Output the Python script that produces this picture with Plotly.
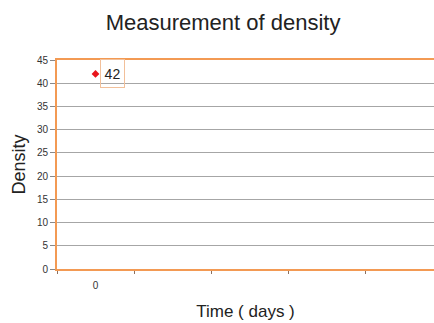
import plotly.graph_objects as go

days = [0]
density = [42]
point_labels = ["42"]
x_tick_vals = [0]
x_tick_text = ["0"]
y_tick_vals = [0, 5, 10, 15, 20, 25, 30, 35, 40, 45]

orange = "#F39A53"
font = "Liberation Sans, Arial, sans-serif"

fig = go.Figure()
fig.add_trace(go.Scatter(
    x=days, y=density, mode="markers",
    marker=dict(symbol="diamond", size=6, color="#E8141C"),
    showlegend=False, hoverinfo="skip",
))
for xv, yv, t in zip(days, density, point_labels):
    fig.add_annotation(
        x=xv, y=yv, text=t, showarrow=False, xanchor="left", yanchor="middle",
        xshift=4, width=21, height=25, borderpad=1,
        bordercolor="#F2C09A", borderwidth=1,
        font=dict(family=font, size=14, color="#222222"),
    )

fig.update_layout(
    width=434, height=323,
    margin=dict(l=57, r=0, t=60, b=54),
    paper_bgcolor="white", plot_bgcolor="white",
    title=dict(text="Measurement of density", x=0.514, xanchor="center",
               y=0.93, yanchor="middle",
               font=dict(family=font, size=22, color="#222222")),
    xaxis=dict(
        range=[-0.5, 4.396], tickvals=x_tick_vals, ticktext=x_tick_text,
        ticks="", showgrid=False, zeroline=False,
        showline=True, linecolor=orange, linewidth=2, mirror=True,
        tickfont=dict(family=font, size=10, color="#333333"),
        ticklabelstandoff=6,
        minor=dict(tick0=0.5, dtick=1, ticks="outside", ticklen=3,
                   tickcolor="#8a7060", tickwidth=1, showgrid=False),
        title=dict(text="Time ( days )", standoff=15,
                   font=dict(family=font, size=17, color="#222222")),
    ),
    yaxis=dict(
        range=[0, 45], tickvals=y_tick_vals, ticks="outside", ticklen=5,
        tickcolor="#888888", showgrid=True, gridcolor="#A6A6A6", gridwidth=1,
        zeroline=False, showline=True, linecolor=orange, linewidth=2,
        tickfont=dict(family=font, size=10, color="#333333"),
        title=dict(text="Density", standoff=7,
                   font=dict(family=font, size=18, color="#222222")),
    ),
)

fig.write_html("out.html")
